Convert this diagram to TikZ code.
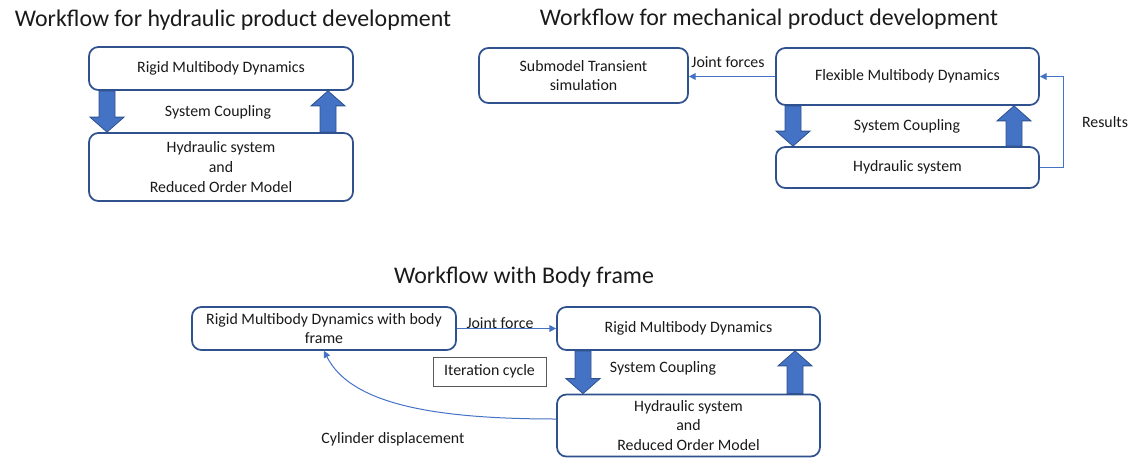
\documentclass[tikz,border=0pt]{standalone}
\usepackage{fontspec}
\setmainfont{Carlito}
\usetikzlibrary{arrows.meta,calc}
\definecolor{edgeblue}{HTML}{2F528F}
\definecolor{fillblue}{HTML}{4472C4}
\definecolor{inkgray}{HTML}{1A1A1A}

% block arrow pointing down from the bottom of #2 to the top of #3, centred on x = #1
\newcommand\downblk[3]{%
  \filldraw[blockarrow]
    ($(#2.south -| #1,0)+(-8,0)$) -- ($(#2.south -| #1,0)+(8,0)$)
    -- ($(#3.north -| #1,0)+(8,-15)$) -- ($(#3.north -| #1,0)+(17,-15)$)
    -- (#3.north -| #1,0)
    -- ($(#3.north -| #1,0)+(-17,-15)$) -- ($(#3.north -| #1,0)+(-8,-15)$) -- cycle;}
% block arrow pointing up from the top of #3 to the bottom of #2, centred on x = #1
\newcommand\upblk[3]{%
  \filldraw[blockarrow]
    ($(#3.north -| #1,0)+(-8,0)$) -- ($(#3.north -| #1,0)+(8,0)$)
    -- ($(#2.south -| #1,0)+(8,15)$) -- ($(#2.south -| #1,0)+(17,15)$)
    -- (#2.south -| #1,0)
    -- ($(#2.south -| #1,0)+(-17,15)$) -- ($(#2.south -| #1,0)+(-8,15)$) -- cycle;}

\begin{document}
\begin{tikzpicture}[x=0.75pt,y=-0.75pt,
  every node/.style={text=inkgray, font=\fontsize{11.9}{14.9}\selectfont},
  procbox/.style={draw=edgeblue, line width=1.3pt, rounded corners=7pt,
    fill=white, align=center, inner sep=0pt},
  title/.style={font=\fontsize{17.9}{21}\selectfont},
  lbl/.style={inner sep=1pt},
  blockarrow/.style={fill=fillblue, draw=edgeblue, line width=0.6pt, line join=miter},
  conn/.style={draw=fillblue, line width=0.75pt,
    -{Triangle[length=5pt,width=5pt]}},
  plainbox/.style={draw=black!65, line width=0.75pt, inner sep=0pt}]
\useasboundingbox (0,0) rectangle (1138,457);

% ---------- hydraulic product development ----------
\node[title] (tA) at (233,20) {Workflow for hydraulic product development};
\node[procbox, minimum width=198pt, minimum height=32.25pt] (A1) at (221,68.5)
  {Rigid Multibody Dynamics};
\node[procbox, minimum width=198pt, minimum height=51pt] (A2) at (221,167)
  {Hydraulic system\\and\\Reduced Order Model};
\downblk{107}{A1}{A2}
\upblk{328}{A1}{A2}
\node[lbl] (scA) at (218,112) {System Coupling};

% ---------- mechanical product development ----------
\node[title] (tB) at (769,19) {Workflow for mechanical product development};
\node[procbox, minimum width=156.75pt, minimum height=41.25pt] (B1) at (583.5,75.5)
  {Submodel Transient\\simulation};
\node[procbox, minimum width=197.25pt, minimum height=42.75pt] (B2) at (907.5,76.5)
  {Flexible Multibody Dynamics};
\node[procbox, minimum width=197.25pt, minimum height=30.75pt] (B3) at (907.5,167.5)
  {Hydraulic system};
\downblk{793}{B2}{B3}
\upblk{1014}{B2}{B3}
\node[lbl] (scB) at (907,126) {System Coupling};
\draw[conn] (B2.west) -- (B1.east |- B2.west);
\node[lbl] (jfB) at (728,62) {Joint forces};
\draw[conn] (B3.east) -- ++(24,0) |- (B2.east);
\node[lbl] (res) at (1105,122) {Results};

% ---------- body frame ----------
\node[title] (tC) at (524,277) {Workflow with Body frame};
\node[procbox, minimum width=198pt, minimum height=32.25pt] (C1) at (324,328.5)
  {Rigid Multibody Dynamics with body\\frame};
\node[procbox, minimum width=197.25pt, minimum height=32.25pt] (C2) at (688.5,328.5)
  {Rigid Multibody Dynamics};
\node[procbox, minimum width=197.25pt, minimum height=46.5pt] (C3) at (688.5,425.5)
  {Hydraulic system\\and\\Reduced Order Model};
\downblk{583}{C2}{C3}
\upblk{795}{C2}{C3}
\node[lbl] (scC) at (663,368) {System Coupling};
\draw[conn] (C1.east) -- (C2.west);
\node[lbl] (jfC) at (500,323) {Joint force};
\node[plainbox, minimum width=84.75pt, minimum height=21.75pt] (it) at (489.5,371.5)
  {Iteration cycle};
\coordinate (cylstart) at ($(C3.west)+(0,-6.5)$);
\draw[conn] (cylstart) .. controls (430,419) and (350,403) .. (C1.south);
\node[lbl] (cyl) at (393,439) {Cylinder displacement};
\end{tikzpicture}
\end{document}
